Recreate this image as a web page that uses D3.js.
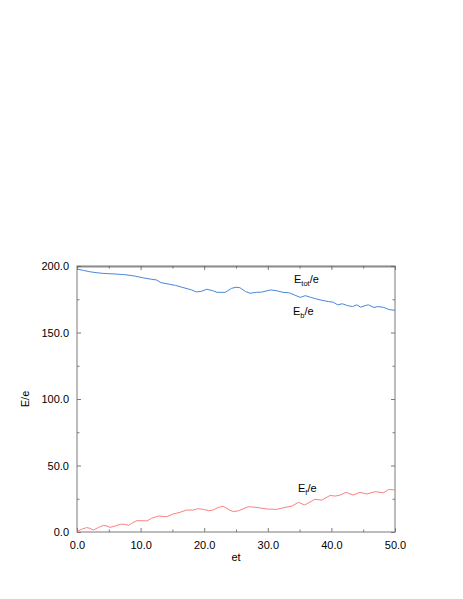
<!DOCTYPE html>
<html>
<head>
<meta charset="utf-8">
<script src="https://cdn.jsdelivr.net/npm/d3@7"></script>
<style>
  body { margin: 0; background: #fff; }
  svg { display: block; font-family: "Liberation Sans", Arial, sans-serif; }
</style>
</head>
<body>
<div id="chart"></div>
<script>
// time axis (et) and energies
const bulkT = [0, 1, 2, 3, 4, 5, 6, 7, 7.5, 9, 10.5, 11.5, 12.5, 13.2, 14.6, 15.5, 16.5, 17.3, 18, 18.8,
  19.6, 20.4, 21.3, 22, 23.3, 24.3, 25, 25.6, 26.5, 27.2, 28.2, 29, 30.4, 31.3, 32.4, 33.4, 34.2, 35.1,
  35.9, 36.7, 37.5, 38.5, 39.5, 40.3, 41, 41.7, 42.5, 43.3, 44, 44.6, 45.3, 45.8, 46.7, 47.3, 48.2, 49.1, 50];
const bulkE = [197.7, 196.7, 195.7, 195, 194.5, 194.2, 194, 193.6, 193.5, 192.5, 191, 190.2, 189.5, 187.5, 186.2, 185.4, 184, 183, 182, 180.5,
  181, 182.5, 181.5, 180.2, 180.2, 183.2, 184, 183.7, 180.8, 179.5, 180.2, 180.3, 182, 181.5, 180.2, 179.8, 178.2, 176.4,
  177.7, 176.5, 175.4, 174.2, 173.3, 172.7, 170.8, 171.6, 170.3, 169.5, 170.8, 169, 170.2, 170.8, 168.8, 169.5, 168.9, 167.2, 166.7];

const fieldT = [0, 0.7, 1.5, 2, 2.6, 3.4, 4.2, 4.7, 5.2, 6, 6.8, 7.5, 8.1, 8.6, 9.4, 10.2, 11, 11.7, 12.8, 14.1,
  15.1, 16.2, 17.2, 18.3, 19, 19.9, 20.7, 21.4, 22.2, 23, 24, 24.6, 25.4, 26.9, 28.3, 29.8, 31.4, 32.7, 33.8,
  34.8, 35.8, 37.4, 38.5, 39.8, 40.6, 41.4, 42.3, 43.4, 44.5, 45.6, 46.9, 48.2, 49, 50];
const fieldE = [0.5, 2, 3.3, 2.8, 1.5, 3.5, 5, 4.5, 3.5, 4.5, 5.8, 5.8, 5, 6.5, 8.5, 8.5, 8.3, 10.3, 12, 11.5,
  13.5, 14.8, 16.5, 16.5, 17.5, 17, 16, 16.5, 18.5, 19.3, 16.5, 15.3, 16, 19, 18.5, 17.3, 17, 18.5, 19.5,
  22.3, 20.3, 24.6, 24, 27.5, 27, 27.8, 29.8, 27.8, 29.8, 28.6, 30.3, 29.5, 32, 31.6];

const totalT = [0, 50];
const totalE = [199.3, 199.3];

const xTicks = [0, 10, 20, 30, 40, 50];
const xMinor = [5, 15, 25, 35, 45];
const yTicks = [0, 50, 100, 150, 200];
const yMinor = [25, 75, 125, 175];

const width = 463, height = 599;
const marginLeft = 77, marginRight = 68, marginTop = 266, marginBottom = 67;

const svg = d3.select("#chart").append("svg")
    .attr("width", width)
    .attr("height", height)
    .attr("viewBox", [0, 0, width, height]);

const x = d3.scaleLinear().domain([0, 50]).range([marginLeft, width - marginRight]);
const y = d3.scaleLinear().domain([0, 200]).range([height - marginBottom, marginTop]);

const fmt = d3.format(".1f");
const axisColor = "#7a7a7a";

function styleAxis(g) {
  g.select(".domain").remove();
  g.selectAll(".tick line").attr("stroke", axisColor);
  g.selectAll(".tick text").attr("fill", "#000").attr("font-size", 11);
}

// bottom axis with labels
svg.append("g")
    .attr("transform", `translate(0,${y(0)})`)
    .call(d3.axisBottom(x).tickValues(xTicks).tickFormat(fmt).tickSize(-4).tickPadding(9))
    .call(styleAxis);
svg.append("g")
    .attr("transform", `translate(0,${y(0)})`)
    .call(d3.axisBottom(x).tickValues(xMinor).tickFormat("").tickSize(-2.5))
    .call(styleAxis);
// top axis
svg.append("g")
    .attr("transform", `translate(0,${y(200)})`)
    .call(d3.axisTop(x).tickValues(xTicks).tickFormat("").tickSize(-4))
    .call(styleAxis);
svg.append("g")
    .attr("transform", `translate(0,${y(200)})`)
    .call(d3.axisTop(x).tickValues(xMinor).tickFormat("").tickSize(-2.5))
    .call(styleAxis);
// left axis with labels
svg.append("g")
    .attr("transform", `translate(${x(0)},0)`)
    .call(d3.axisLeft(y).tickValues(yTicks).tickFormat(fmt).tickSize(-4).tickPadding(8))
    .call(styleAxis);
svg.append("g")
    .attr("transform", `translate(${x(0)},0)`)
    .call(d3.axisLeft(y).tickValues(yMinor).tickFormat("").tickSize(-2.5))
    .call(styleAxis);
// right axis
svg.append("g")
    .attr("transform", `translate(${x(50)},0)`)
    .call(d3.axisRight(y).tickValues(yTicks).tickFormat("").tickSize(-4))
    .call(styleAxis);
svg.append("g")
    .attr("transform", `translate(${x(50)},0)`)
    .call(d3.axisRight(y).tickValues(yMinor).tickFormat("").tickSize(-2.5))
    .call(styleAxis);

// frame
svg.append("rect")
    .attr("x", x(0))
    .attr("y", y(200))
    .attr("width", x(50) - x(0))
    .attr("height", y(0) - y(200))
    .attr("fill", "none")
    .attr("stroke", axisColor)
    .attr("stroke-width", 1);

const line = d3.line().x(d => x(d[0])).y(d => y(d[1]));

svg.append("path")
    .datum(d3.zip(totalT, totalE))
    .attr("fill", "none")
    .attr("stroke", "#555")
    .attr("stroke-width", 0.8)
    .attr("d", line);

svg.append("path")
    .datum(d3.zip(bulkT, bulkE))
    .attr("fill", "none")
    .attr("stroke", "#4a86d8")
    .attr("stroke-width", 1)
    .attr("d", line);

svg.append("path")
    .datum(d3.zip(fieldT, fieldE))
    .attr("fill", "none")
    .attr("stroke", "#ff7f7f")
    .attr("stroke-width", 1)
    .attr("d", line);

// axis titles
svg.append("text")
    .attr("x", (x(0) + x(50)) / 2)
    .attr("y", 561)
    .attr("text-anchor", "middle")
    .attr("font-size", 11)
    .text("et");

svg.append("text")
    .attr("transform", `translate(29,${y(100)}) rotate(-90)`)
    .attr("text-anchor", "middle")
    .attr("font-size", 11)
    .text("E/e");

// curve labels
function label(px, py, sub) {
  const t = svg.append("text").attr("x", px).attr("y", py).attr("font-size", 11);
  t.append("tspan").text("E");
  t.append("tspan").attr("font-size", 7.5).attr("dy", 3).text(sub);
  t.append("tspan").attr("dy", -3).text("/e");
}
label(294, 283, "tot");
label(293, 315, "b");
label(298, 492, "f");
</script>
</body>
</html>
